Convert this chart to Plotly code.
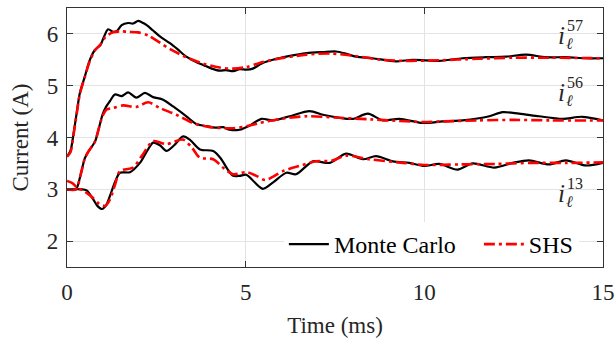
import plotly.graph_objects as go

# ---- data (time in ms, current in A) ----
t_mc57 = [0, 0.1, 0.18, 0.27, 0.36, 0.5, 0.64, 0.78, 0.94, 1.02, 1.15, 1.29, 1.39, 1.53, 1.71, 1.85, 1.99, 2.1, 2.23, 2.4, 2.6, 2.88, 3.1, 3.34, 3.6, 3.81, 4.05, 4.27, 4.45, 4.65, 4.83, 5.02, 5.2, 5.45, 5.76, 6.2, 6.7, 7.16, 7.53, 7.8, 8.09, 8.55, 9.2, 9.67, 10.05, 10.42, 11.07, 11.72, 12.28, 12.84, 13.4, 13.96, 14.52, 15]
i_mc57 = [3.63, 3.75, 4.06, 4.47, 4.86, 5.18, 5.5, 5.69, 5.79, 5.92, 6.09, 6.04, 6.05, 6.17, 6.21, 6.2, 6.25, 6.22, 6.17, 6.07, 5.95, 5.82, 5.7, 5.56, 5.46, 5.4, 5.33, 5.29, 5.3, 5.28, 5.32, 5.31, 5.33, 5.43, 5.5, 5.57, 5.63, 5.65, 5.66, 5.62, 5.56, 5.53, 5.47, 5.5, 5.49, 5.48, 5.53, 5.55, 5.56, 5.6, 5.55, 5.55, 5.53, 5.53]

t_shs57 = [0, 0.1, 0.18, 0.27, 0.36, 0.5, 0.64, 0.78, 0.94, 1.05, 1.15, 1.29, 1.5, 1.71, 1.99, 2.27, 2.6, 2.9, 3.34, 3.8, 4.27, 4.65, 5.02, 5.39, 5.76, 6.7, 7.4, 8.09, 8.8, 9.5, 10.4, 11.5, 12.5, 13.5, 15]
i_shs57 = [3.63, 3.72, 4.04, 4.45, 4.84, 5.17, 5.48, 5.68, 5.8, 5.92, 5.98, 6.03, 6.05, 6.04, 6.03, 5.97, 5.83, 5.7, 5.55, 5.43, 5.35, 5.33, 5.36, 5.44, 5.5, 5.6, 5.62, 5.57, 5.5, 5.48, 5.49, 5.52, 5.54, 5.54, 5.53]

t_mc56 = [0, 0.25, 0.37, 0.5, 0.6, 0.74, 0.8, 0.9, 1.0, 1.1, 1.2, 1.34, 1.53, 1.71, 1.94, 2.18, 2.41, 2.69, 2.97, 3.34, 3.62, 3.9, 4.18, 4.37, 4.55, 4.83, 5.11, 5.44, 5.76, 6.23, 6.79, 7.16, 7.63, 8.0, 8.42, 8.84, 9.3, 9.95, 10.51, 11.07, 11.82, 12.19, 12.65, 13.21, 13.86, 14.42, 15]
i_mc56 = [3.0, 3.0, 3.25, 3.6, 3.73, 3.87, 3.95, 4.2, 4.45, 4.6, 4.7, 4.83, 4.8, 4.87, 4.77, 4.86, 4.78, 4.73, 4.6, 4.41, 4.26, 4.22, 4.19, 4.2, 4.15, 4.15, 4.23, 4.36, 4.33, 4.41, 4.51, 4.44, 4.38, 4.36, 4.46, 4.33, 4.36, 4.28, 4.31, 4.33, 4.41, 4.49, 4.46, 4.41, 4.36, 4.4, 4.33]

t_shs56 = [0, 0.25, 0.37, 0.5, 0.6, 0.74, 0.8, 0.9, 1.0, 1.11, 1.29, 1.57, 1.94, 2.27, 2.6, 3.06, 3.53, 4.0, 4.65, 5.11, 5.39, 6.0, 6.7, 7.63, 8.5, 9.02, 9.95, 10.5, 11.5, 12.5, 13.5, 15]
i_shs56 = [3.0, 3.0, 3.25, 3.6, 3.73, 3.87, 3.95, 4.2, 4.42, 4.54, 4.57, 4.62, 4.59, 4.68, 4.57, 4.44, 4.28, 4.2, 4.18, 4.23, 4.28, 4.36, 4.41, 4.38, 4.35, 4.33, 4.3, 4.31, 4.33, 4.34, 4.33, 4.33]

t_mc13 = [0, 0.2, 0.4, 0.55, 0.73, 0.85, 0.98, 1.1, 1.2, 1.35, 1.48, 1.76, 2.04, 2.25, 2.41, 2.6, 2.78, 3.0, 3.25, 3.45, 3.72, 4.09, 4.3, 4.5, 4.65, 4.83, 5.02, 5.2, 5.48, 5.76, 6.14, 6.41, 6.88, 7.35, 7.81, 8.28, 8.65, 9.12, 9.58, 10.0, 10.42, 10.93, 11.35, 11.96, 12.47, 12.93, 13.49, 13.96, 14.52, 15]
i_mc13 = [3.0, 3.0, 3.0, 2.98, 2.81, 2.68, 2.62, 2.7, 2.87, 3.15, 3.32, 3.33, 3.51, 3.75, 3.9, 3.85, 3.74, 3.85, 4.02, 3.95, 3.77, 3.74, 3.6, 3.38, 3.26, 3.26, 3.28, 3.17, 3.01, 3.13, 3.32, 3.29, 3.54, 3.51, 3.69, 3.58, 3.64, 3.54, 3.51, 3.45, 3.49, 3.38, 3.5, 3.42, 3.51, 3.56, 3.48, 3.56, 3.46, 3.51]

t_shs13 = [0, 0.15, 0.3, 0.45, 0.7, 0.9, 1.07, 1.2, 1.35, 1.48, 1.85, 2.1, 2.41, 2.78, 3.0, 3.25, 3.5, 3.72, 4.09, 4.4, 4.65, 5.02, 5.3, 5.55, 6.04, 6.5, 6.97, 7.4, 7.81, 8.46, 9.4, 10.0, 11.0, 12.0, 13.0, 14.0, 15]
i_shs13 = [3.16, 3.12, 3.02, 2.98, 2.85, 2.72, 2.68, 2.8, 3.1, 3.35, 3.42, 3.65, 3.93, 3.87, 3.92, 3.96, 3.8, 3.61, 3.58, 3.4, 3.29, 3.33, 3.26, 3.18, 3.35, 3.45, 3.54, 3.55, 3.65, 3.58, 3.51, 3.47, 3.48, 3.49, 3.51, 3.51, 3.52]

x_ticks = [0, 5, 10, 15]
y_ticks = [2, 3, 4, 5, 6]
labels = ["57", "56", "13"]

FONT = "Liberation Serif"
TXT = "#262626"
RED_DASH = "11px,4px,3px,4px"
FS = 23
NBSP = "\u00a0"

fig = go.Figure()

mc = [(t_mc57, i_mc57), (t_mc56, i_mc56), (t_mc13, i_mc13)]
shs = [(t_shs57, i_shs57), (t_shs56, i_shs56), (t_shs13, i_shs13)]

for k, (t, i) in enumerate(mc):
    fig.add_trace(go.Scatter(
        x=t, y=i, mode="lines", name="Monte Carlo" + NBSP * 3, legendgroup="mc",
        showlegend=(k == 0),
        line=dict(color="black", width=2.2, shape="spline", smoothing=0.8)))
for k, (t, i) in enumerate(shs):
    fig.add_trace(go.Scatter(
        x=t, y=i, mode="lines", name="SHS", legendgroup="shs",
        showlegend=(k == 0),
        line=dict(color="#ff0000", width=2.6, dash=RED_DASH, shape="spline", smoothing=0.8)))

# curve labels i_l^k
label_pos = [(13.85, 5.96), (13.85, 4.865), (13.85, 2.92)]
ann = []
for lab, (x0, y0) in zip(labels, label_pos):
    ann.append(dict(x=x0, y=y0, xref="x", yref="y", text="<i>i</i>", showarrow=False,
                    font=dict(family=FONT, size=25, color=TXT), xanchor="center", yanchor="middle"))
    ann.append(dict(x=x0 + 0.36, y=y0 + 0.2, xref="x", yref="y", text=lab, showarrow=False,
                    font=dict(family=FONT, size=16, color=TXT), xanchor="center", yanchor="middle"))
    ann.append(dict(x=x0 + 0.2, y=y0 - 0.15, xref="x", yref="y", text="<i>ℓ</i>", showarrow=False,
                    font=dict(family=FONT, size=16, color=TXT), xanchor="center", yanchor="middle"))

fig.update_layout(
    width=615, height=339,
    margin=dict(l=67, r=12, t=8, b=72, autoexpand=False),
    paper_bgcolor="white", plot_bgcolor="white",
    font=dict(family=FONT, size=FS, color=TXT),
    showlegend=True,
    legend=dict(orientation="h", x=0.955, y=0.0, xanchor="right", yanchor="bottom",
                bgcolor="white", borderwidth=0, font=dict(family=FONT, size=24, color="black"),
                itemwidth=40, tracegroupgap=0),
    annotations=ann,
)
fig.update_xaxes(range=[0, 15], tickvals=x_ticks, ticktext=[str(v) for v in x_ticks],
                 showgrid=True, gridcolor="#e3e3e3", gridwidth=1, automargin=False,
                 showline=True, linecolor="#333333", linewidth=1.2, mirror="ticks",
                 ticks="inside", ticklen=6, tickcolor="#333333", zeroline=False,
                 ticklabelstandoff=4, ticklabeloverflow="allow",
                 title=dict(text="Time (ms)", font=dict(family=FONT, size=FS, color=TXT), standoff=13),
                 tickfont=dict(family=FONT, size=FS, color=TXT))
fig.update_yaxes(range=[1.5, 6.5], tickvals=y_ticks, ticktext=[str(v) for v in y_ticks],
                 showgrid=True, gridcolor="#e3e3e3", gridwidth=1, automargin=False,
                 showline=True, linecolor="#333333", linewidth=1.2, mirror="ticks",
                 ticks="inside", ticklen=6, tickcolor="#333333", zeroline=False,
                 ticklabelstandoff=3,
                 title=dict(text="Current (A)", font=dict(family=FONT, size=FS, color=TXT), standoff=11),
                 tickfont=dict(family=FONT, size=FS, color=TXT))

# remove the default 8px page margin so the 615x339 figure fills the window exactly
fig.write_html("out.html", config={"displayModeBar": False},
               post_script="document.body.style.margin='0';document.body.style.overflow='hidden';")
